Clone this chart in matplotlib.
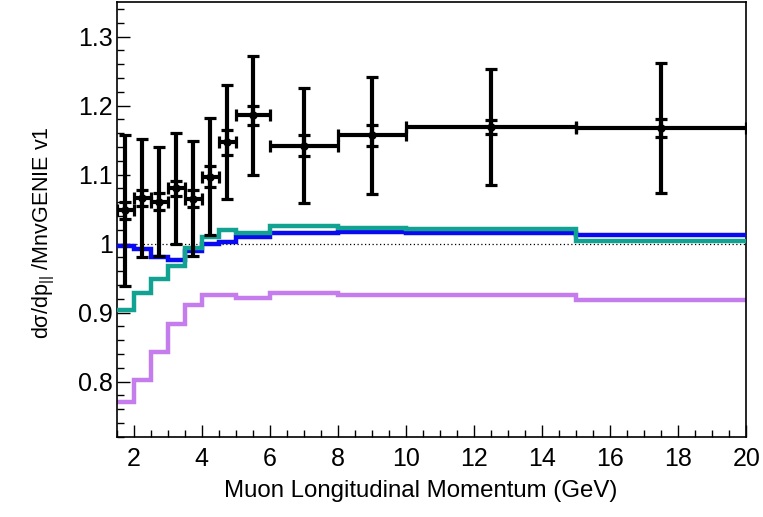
import matplotlib
matplotlib.use("Agg")
import matplotlib.pyplot as plt
import numpy as np
from matplotlib.ticker import MultipleLocator

# bins in muon longitudinal momentum (GeV)
bin_edges = [1.5, 2, 2.5, 3, 3.5, 4, 4.5, 5, 6, 8, 10, 15, 20]

# data / MnvGENIE v1
data_ratio = [1.048, 1.066, 1.061, 1.080, 1.065, 1.097, 1.147, 1.186, 1.142, 1.157, 1.169, 1.167]
total_err = [0.109, 0.086, 0.079, 0.081, 0.083, 0.085, 0.083, 0.086, 0.083, 0.085, 0.084, 0.094]
stat_err = [0.013, 0.012, 0.012, 0.011, 0.012, 0.015, 0.018, 0.014, 0.015, 0.015, 0.010, 0.013]

# model ratios
blue_ratio = [0.997, 0.992, 0.980, 0.976, 0.989, 0.999, 1.003, 1.009, 1.015, 1.017, 1.016, 1.012]
teal_ratio = [0.904, 0.929, 0.949, 0.968, 0.994, 1.009, 1.020, 1.016, 1.025, 1.022, 1.021, 1.004]
purple_ratio = [0.771, 0.803, 0.843, 0.884, 0.911, 0.926, 0.925, 0.921, 0.929, 0.925, 0.925, 0.918]

edges = np.array(bin_edges)
centers = 0.5 * (edges[1:] + edges[:-1])
half_w = 0.5 * (edges[1:] - edges[:-1])

plt.rcParams['font.family'] = ['Liberation Sans', 'DejaVu Sans']
plt.rcParams['mathtext.fontset'] = 'custom'
plt.rcParams['mathtext.rm'] = 'Liberation Sans'
plt.rcParams['mathtext.it'] = 'Liberation Sans'

fig = plt.figure(figsize=(7.63, 5.17), dpi=100)
ax = fig.add_axes([0.153, 0.155, 0.825, 0.841])

ax.axhline(1.0, color="black", lw=0.9, ls=(0, (1, 2)), zorder=1)

ax.stairs(purple_ratio, edges, color="#c57ded", lw=3.2, baseline=None, zorder=2)
ax.stairs(blue_ratio, edges, color="#0a0af0", lw=3.2, baseline=None, zorder=3)
ax.stairs(teal_ratio, edges, color="#12a292", lw=3.2, baseline=None, zorder=4)

ax.errorbar(centers, data_ratio, xerr=half_w, yerr=total_err, fmt="o", color="black",
            ms=5, elinewidth=3.0, capsize=4.5, capthick=2.3, zorder=5)
ax.errorbar(centers, data_ratio, yerr=stat_err, fmt="none", ecolor="black",
            elinewidth=3.0, capsize=4.5, capthick=2.3, zorder=6)

ax.set_xlim(1.5, 20)
ax.set_ylim(0.72, 1.35)

ax.xaxis.set_major_locator(MultipleLocator(2))
ax.xaxis.set_minor_locator(MultipleLocator(0.5))
ax.yaxis.set_minor_locator(MultipleLocator(0.02))
ax.set_yticks([0.8, 0.9, 1.0, 1.1, 1.2, 1.3])
ax.set_yticklabels(["0.8", "0.9", "1", "1.1", "1.2", "1.3"])

ax.tick_params(which="both", direction="in", top=False, right=False, width=1, labelsize=18)
ax.tick_params(which="major", length=9)
ax.tick_params(which="minor", length=5)
ax.tick_params(axis="x", which="major", pad=7)
ax.tick_params(axis="y", which="major", pad=3)
for s in ax.spines.values():
    s.set_linewidth(1.2)

ax.set_xlabel("Muon Longitudinal Momentum (GeV)", fontsize=17.3)
ax.xaxis.set_label_coords(0.483, -0.1)
ax.set_ylabel("dσ/dp$_{||}$ /MnvGENIE v1", fontsize=15.5)
ax.yaxis.set_label_coords(-0.095, 0.47)

fig.savefig("out.png", dpi=100)
